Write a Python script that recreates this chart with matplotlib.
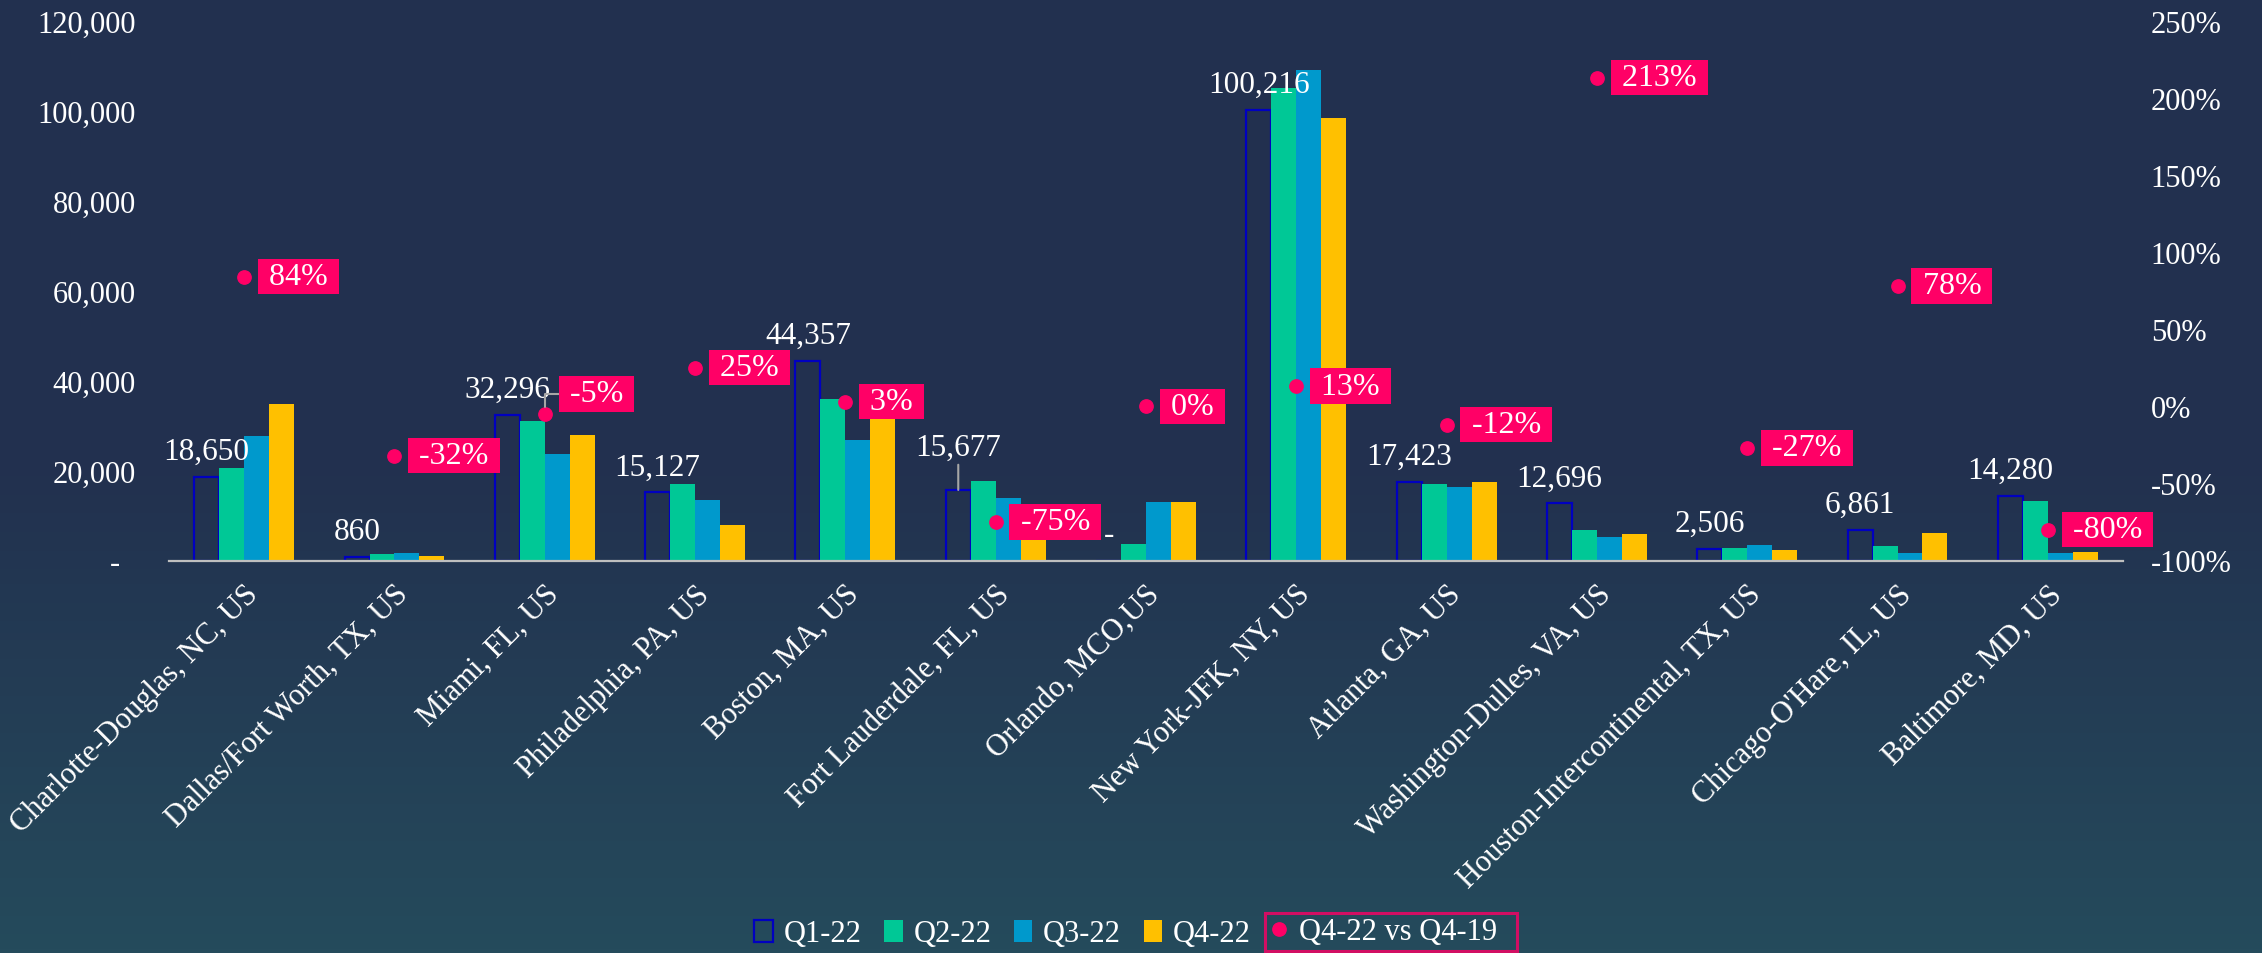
import numpy as np
import matplotlib
matplotlib.use("Agg")
import matplotlib.pyplot as plt
from matplotlib.lines import Line2D
from matplotlib.colors import LinearSegmentedColormap
from matplotlib.transforms import ScaledTranslation

# data
airports = ["Charlotte-Douglas, NC, US", "Dallas/Fort Worth, TX, US", "Miami, FL, US",
            "Philadelphia, PA, US", "Boston, MA, US", "Fort Lauderdale, FL, US",
            "Orlando, MCO,US", "New York-JFK, NY, US", "Atlanta, GA, US",
            "Washington-Dulles, VA, US", "Houston-Intercontinental, TX, US",
            "Chicago-O'Hare, IL, US", "Baltimore, MD, US"]
q1_22 = [18650, 860, 32296, 15127, 44357, 15677, 0, 100216, 17423, 12696, 2506, 6861, 14280]
q2_22 = [20600, 1400, 31100, 17000, 36000, 17700, 3700, 105100, 17000, 6800, 2800, 3200, 13300]
q3_22 = [27700, 1700, 23600, 13500, 26800, 14000, 13000, 109100, 16400, 5300, 3500, 1700, 1700]
q4_22 = [34700, 1000, 27900, 8000, 31500, 4500, 13000, 98400, 17500, 6000, 2400, 6200, 2000]
vs_q4_19 = [84, -32, -5, 25, 3, -75, 0, 13, -12, 213, -27, 78, -80]
series_names = ["Q1-22", "Q2-22", "Q3-22", "Q4-22"]
line_name = "Q4-22 vs Q4-19"

NAVY = "#0000C0"
GREEN = "#00C896"
BLUE = "#0099CC"
GOLD = "#FFC000"
PINK = "#FF0066"
GRAY = "#A6A6A6"
TXT = "#FFFFFF"
FS = 22

plt.rcParams['font.family'] = ['Liberation Serif', 'DejaVu Serif']

W, H = 2262, 954
fig = plt.figure(figsize=(W / 100, H / 100), dpi=100)

# background gradient, dark navy at top to teal-ish at bottom
bg = fig.add_axes([0, 0, 1, 1], zorder=-10)
cmap = LinearSegmentedColormap.from_list("bg", ["#22304F", "#22314F", "#254B5C"])
grad = np.linspace(0, 1, 256).reshape(-1, 1)
bg.imshow(grad, aspect='auto', cmap=cmap, extent=[0, 1, 0, 1], origin='upper')
bg.axis('off')

left, right = 169 / W, 2123 / W
bottom, top = 1 - 561.5 / H, 1 - 21.5 / H
ax = fig.add_axes([left, bottom, right - left, top - bottom])
ax.patch.set_alpha(0)

x = np.arange(len(airports))
w = 0.166
b1 = ax.bar(x - 1.5 * w, q1_22, w, facecolor='none', edgecolor=NAVY, linewidth=1.6, zorder=3)
b2 = ax.bar(x - 0.5 * w, q2_22, w, color=GREEN, zorder=3)
b3 = ax.bar(x + 0.5 * w, q3_22, w, color=BLUE, zorder=3)
b4 = ax.bar(x + 1.5 * w, q4_22, w, color=GOLD, zorder=3)

ax.set_xlim(-0.5, len(airports) - 0.5)
ax.set_ylim(0, 120000)
ax.set_yticks(np.arange(0, 120001, 20000))
ax.yaxis.set_major_formatter(matplotlib.ticker.FuncFormatter(
    lambda v, p: "-  " if v == 0 else "{:,.0f}".format(v)))
ax.tick_params(axis='y', length=0, pad=24, labelsize=FS, labelcolor=TXT)
ax.set_xticks(x)
ax.set_xticklabels(airports, rotation=45, ha='right', va='center', rotation_mode='anchor')
ax.tick_params(axis='x', length=0, pad=21, labelsize=FS, labelcolor=TXT)
shift = ScaledTranslation(7 / 72, 0, fig.dpi_scale_trans)
for t in ax.get_xticklabels():
    t.set_transform(t.get_transform() + shift)
for s in ['left', 'right', 'top']:
    ax.spines[s].set_visible(False)
ax.spines['bottom'].set_color('#BFBFBF')
ax.spines['bottom'].set_linewidth(1.6)
ax.spines['bottom'].set_zorder(4)

# Q1 data labels
for i, v in enumerate(q1_22):
    lbl = "-" if v == 0 else "{:,}".format(v)
    if airports[i].startswith("Fort"):
        ax.annotate(lbl, xy=(x[i] - 1.5 * w, v), xytext=(0, 35), textcoords='offset pixels',
                    ha='center', va='baseline', color=TXT, fontsize=FS + 0.5, zorder=6,
                    arrowprops=dict(arrowstyle='-', color=GRAY, lw=1.5, shrinkA=0, shrinkB=0))
    else:
        ax.annotate(lbl, xy=(x[i] - 1.5 * w, v), xytext=(0, 18), textcoords='offset pixels',
                    ha='center', va='baseline', color=TXT, fontsize=FS + 0.5, zorder=6)

# secondary axis: % change vs Q4-19
ax2 = ax.twinx()
ax2.set_ylim(-1.0, 2.5)
ax2.set_yticks(np.arange(-1.0, 2.51, 0.5))
ax2.yaxis.set_major_formatter(matplotlib.ticker.FuncFormatter(lambda v, p: "{:.0f}%".format(v * 100)))
ax2.tick_params(axis='y', length=0, pad=20, labelsize=FS, labelcolor=TXT)
for s in ax2.spines.values():
    s.set_visible(False)
pct = np.array(vs_q4_19) / 100.0
ax2.plot(x, pct, 'o', color=PINK, ms=9.6, ls='none', zorder=5)

for i, p in enumerate(vs_q4_19):
    box = dict(boxstyle='square,pad=0.1', fc=PINK, ec='none')
    lbl = " {}% ".format(p)
    if airports[i].startswith("Miami"):
        ax2.annotate(lbl, xy=(x[i], pct[i]), xytext=(17, 20), textcoords='offset pixels',
                     ha='left', va='center', color=TXT, fontsize=FS + 1, bbox=box, zorder=7,
                     arrowprops=dict(arrowstyle='-', color=GRAY, lw=1.5, relpos=(0, 0.5),
                                     shrinkA=0, shrinkB=5,
                                     connectionstyle='angle,angleA=180,angleB=90,rad=0'))
    else:
        ax2.annotate(lbl, xy=(x[i], pct[i]), xytext=(17, 0), textcoords='offset pixels',
                     ha='left', va='center', color=TXT, fontsize=FS + 1, bbox=box, zorder=7)

# legends
leg1 = fig.legend([b1, b2, b3, b4], series_names, loc='center right',
                  bbox_to_anchor=(1263 / W, 1 - 935 / H), ncol=4, frameon=False,
                  fontsize=FS, labelcolor=TXT, handlelength=0.6, handleheight=0.75,
                  handletextpad=0.35, columnspacing=0.75, borderaxespad=0)
dot = Line2D([], [], marker='o', color=PINK, ls='none', ms=9.6)
leg2 = fig.legend([dot], [line_name + "  "], loc='center left',
                  bbox_to_anchor=(1265 / W, 1 - 933 / H), frameon=True, fancybox=False,
                  fontsize=FS, labelcolor=TXT, handlelength=0.6, handletextpad=0.35,
                  borderpad=0.15, borderaxespad=0, facecolor='none', edgecolor=PINK)
leg2.get_frame().set_linewidth(2.2)

fig.savefig("out.png", dpi=100)
